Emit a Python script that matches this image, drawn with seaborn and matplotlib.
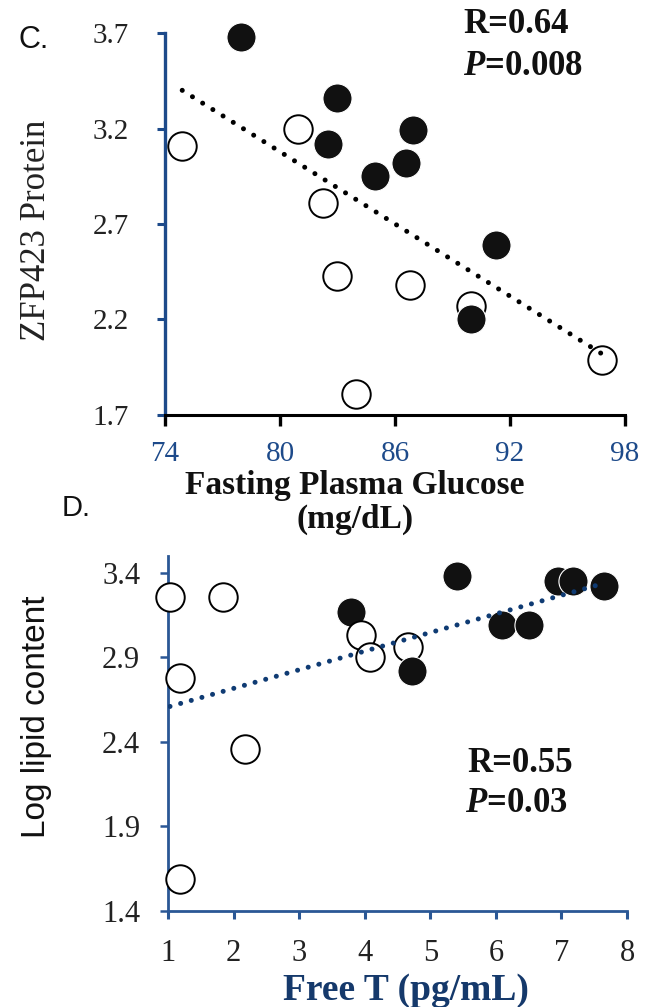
import matplotlib
matplotlib.use("Agg")
import matplotlib.pyplot as plt
import seaborn as sns
import numpy as np
import pandas as pd

# Panel C: fasting plasma glucose vs ZFP423 protein
c_glucose_filled = [77.96, 83.0, 86.95, 82.48, 86.55, 84.95, 91.29, 89.97]
c_zfp423_filled = [3.68, 3.36, 3.19, 3.12, 3.02, 2.95, 2.59, 2.20]
c_glucose_open = [74.88, 80.94, 82.26, 83.0, 86.78, 89.97, 96.8, 83.98]
c_zfp423_open = [3.11, 3.20, 2.81, 2.43, 2.38, 2.27, 1.99, 1.81]
c_trend_x = [74.9, 96.8]
c_trend_y = [3.40, 2.02]
c_xticks = [74, 80, 86, 92, 98]
c_yticks = [1.7, 2.2, 2.7, 3.2, 3.7]

# Panel D: free T vs log lipid content
d_free_t_filled = [3.79, 4.72, 5.40, 6.10, 6.50, 6.95, 7.18, 7.65]
d_lipid_filled = [3.17, 2.82, 3.38, 3.09, 3.09, 3.35, 3.35, 3.32]
d_free_t_open = [1.03, 1.84, 1.19, 2.17, 1.19, 3.95, 4.08, 4.66]
d_lipid_open = [3.26, 3.26, 2.78, 2.36, 1.59, 3.03, 2.90, 2.96]
d_trend_x = [1.03, 7.66]
d_trend_y = [2.61, 3.34]
d_xticks = [1, 2, 3, 4, 5, 6, 7, 8]
d_yticks = [1.4, 1.9, 2.4, 2.9, 3.4]

sns.set_style("white")
plt.rcParams["font.family"] = ["Liberation Serif", "DejaVu Serif"]
plt.rcParams["mathtext.fontset"] = "custom"
plt.rcParams["mathtext.it"] = "Liberation Serif:bold:italic"
plt.rcParams["mathtext.rm"] = "Liberation Serif:bold"

BLUE_C = "#1d4a8a"
BLUE_D = "#2a5795"
NAVY = "#15396b"
W, H = 650, 1007

fig = plt.figure(figsize=(6.5, 10.07), dpi=100)

def fx(px):
    return px / W

def fy(py):
    return 1 - py / H

# ---------- panel C ----------
ax_c = fig.add_axes([0.2538, 0.5879, 0.7077, 0.3793])
sns.scatterplot(x=c_glucose_open, y=c_zfp423_open, s=420, color="white",
                edgecolor="black", linewidth=1.4, ax=ax_c, zorder=3, clip_on=False)
sns.scatterplot(x=c_glucose_filled, y=c_zfp423_filled, s=440, color="#111111",
                edgecolor="white", linewidth=0.8, ax=ax_c, zorder=4, clip_on=False)
ax_c.plot(c_trend_x, c_trend_y, color="black", lw=3.6, linestyle=(0, (0.01, 2.4)),
          dash_capstyle="round", zorder=5)

ax_c.set_xlim(74, 98)
ax_c.set_ylim(1.7, 3.7)
ax_c.set_xticks(c_xticks)
ax_c.set_yticks(c_yticks)
for side in ["top", "right"]:
    ax_c.spines[side].set_visible(False)
ax_c.spines["left"].set_color(BLUE_C)
ax_c.spines["left"].set_linewidth(2.4)
ax_c.spines["bottom"].set_color("black")
ax_c.spines["bottom"].set_linewidth(2.2)
ax_c.tick_params(axis="y", direction="out", length=6, width=2.2, color=BLUE_C,
                 labelcolor="#222222", labelsize=21, pad=20, left=True)
ax_c.tick_params(axis="x", direction="out", length=8, width=2.4, color="black",
                 labelcolor=BLUE_C, labelsize=21, pad=11, bottom=True)
ax_c.set_xlabel("")
ax_c.set_ylabel("")

fig.text(fx(18), fy(48), "C.", family="Liberation Sans", fontsize=22,
         ha="left", va="baseline", color="#111111")
fig.text(fx(37), fy(230), "ZFP423 Protein", fontsize=25, rotation=90,
         ha="center", va="center", color="#222222")
fig.text(fx(355), fy(494), "Fasting Plasma Glucose", fontsize=24,
         fontweight="bold", ha="center", va="baseline", color="#111111")
fig.text(fx(355), fy(528), "(mg/dL)", fontsize=24, fontweight="bold",
         ha="center", va="baseline", color="#111111")
fig.text(fx(463), fy(33), "R=0.64", fontsize=25, fontweight="bold",
         ha="left", va="baseline", color="#111111")
fig.text(fx(463), fy(75), r"$P$=0.008", fontsize=25, fontweight="bold",
         ha="left", va="baseline", color="#111111")

# ---------- panel D ----------
ax_d = fig.add_axes([0.2585, 0.0953, 0.7062, 0.3526])
sns.scatterplot(x=d_free_t_filled[:1], y=d_lipid_filled[:1], s=440, color="#111111",
                edgecolor="white", linewidth=0.8, ax=ax_d, zorder=3, clip_on=False)
sns.scatterplot(x=d_free_t_open, y=d_lipid_open, s=420, color="white",
                edgecolor="black", linewidth=1.4, ax=ax_d, zorder=3, clip_on=False)
sns.scatterplot(x=d_free_t_filled[1:], y=d_lipid_filled[1:], s=440, color="#111111",
                edgecolor="white", linewidth=0.8, ax=ax_d, zorder=4, clip_on=False)
ax_d.plot(d_trend_x, d_trend_y, color="#0f3b73", lw=3.6, linestyle=(0, (0.01, 2.2)),
          dash_capstyle="round", zorder=5)

ax_d.set_xlim(1, 8)
ax_d.set_ylim(1.4, 3.5)
ax_d.set_xticks(d_xticks)
ax_d.set_yticks(d_yticks)
for side in ["top", "right"]:
    ax_d.spines[side].set_visible(False)
for side in ["left", "bottom"]:
    ax_d.spines[side].set_color(BLUE_D)
    ax_d.spines[side].set_linewidth(2.0)
ax_d.tick_params(axis="y", direction="out", length=6, width=1.8, color=BLUE_D,
                 labelcolor="#222222", labelsize=22, pad=14, left=True)
ax_d.tick_params(axis="x", direction="out", length=6, width=2.2, color=BLUE_D,
                 labelcolor="#222222", labelsize=22, pad=14, bottom=True)
ax_d.set_xlabel("")
ax_d.set_ylabel("")

fig.text(fx(62), fy(516), "D.", family="Liberation Sans", fontsize=21,
         ha="left", va="baseline", color="#111111")
fig.text(fx(37), fy(717), "Log lipid content", family="Liberation Sans",
         fontsize=24, rotation=90, ha="center", va="center", color="#111111")
fig.text(fx(406), fy(1000), "Free T (pg/mL)", fontsize=27, fontweight="bold",
         ha="center", va="baseline", color=NAVY)
fig.text(fx(467), fy(772), "R=0.55", fontsize=25, fontweight="bold",
         ha="left", va="baseline", color="#111111")
fig.text(fx(465), fy(812), r"$P$=0.03", fontsize=25, fontweight="bold",
         ha="left", va="baseline", color="#111111")

fig.savefig("out.png", dpi=100)
